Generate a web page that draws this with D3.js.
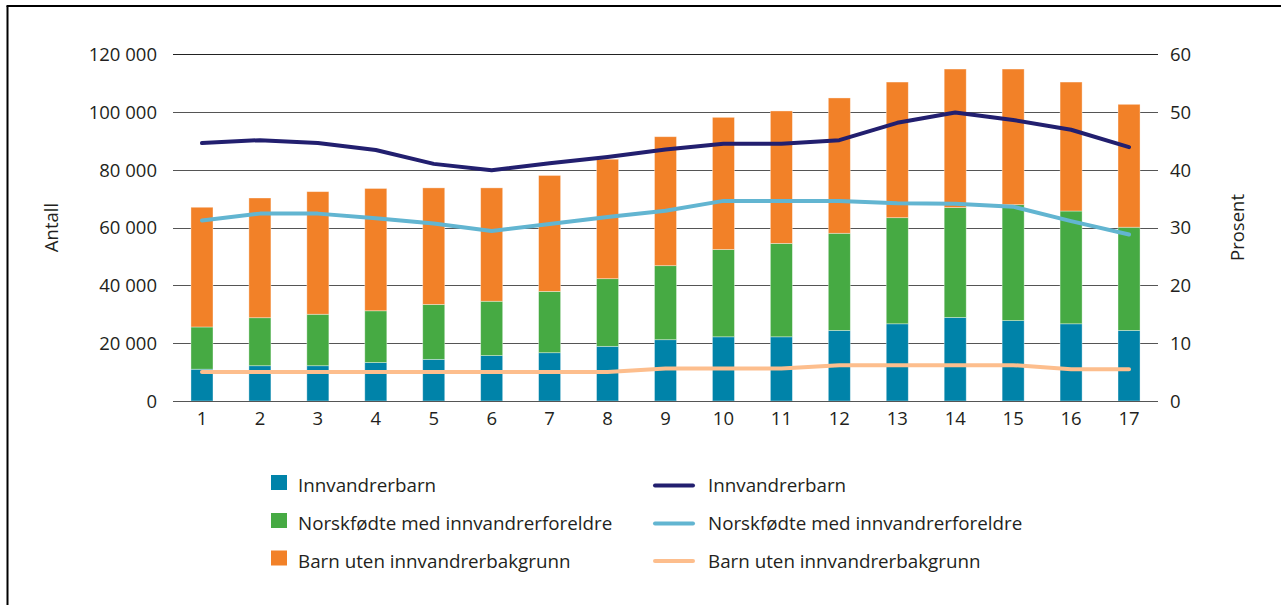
<!DOCTYPE html>
<html>
<head>
<meta charset="utf-8">
<script src="https://cdn.jsdelivr.net/npm/d3@7"></script>
<style>
  body { margin: 0; background: #fff; }
  text { font-family: "Open Sans", sans-serif; fill: #231f20; }
</style>
</head>
<body>
<div id="chart"></div>
<script>
// categories on the x axis
var years = ["1","2","3","4","5","6","7","8","9","10","11","12","13","14","15","16","17"];

// stacked bars (Antall) - each segment
var innvandrerbarn = [11000,12200,12200,13300,14400,15700,16700,18900,21200,22200,22200,24400,26700,28900,27800,26700,24400];
var norskfodte     = [14600,16600,17800,17900,19000,18800,21200,23400,25600,30200,32300,33600,36700,38000,40100,39000,35700];
var utenBakgrunn   = [41400,41400,42400,42300,40300,39200,40100,41300,44600,45700,45800,46800,46900,47900,46900,44600,42500];

// lines (Prosent)
var pInnvandrerbarn = [44.6,45.1,44.6,43.4,41.0,39.9,41.1,42.2,43.5,44.5,44.5,45.1,48.1,49.9,48.6,46.9,43.9];
var pNorskfodte     = [31.2,32.4,32.4,31.6,30.7,29.4,30.6,31.8,32.9,34.6,34.6,34.6,34.2,34.1,33.6,31.1,28.8];
var pUten           = [5.0,5.0,5.0,5.0,5.0,5.0,5.0,5.0,5.6,5.6,5.6,6.2,6.2,6.2,6.2,5.5,5.5];

var leftTicks  = [0,20000,40000,60000,80000,100000,120000];
var rightTicks = [0,10,20,30,40,50,60];

var barNames  = ["Innvandrerbarn","Norskfødte med innvandrerforeldre","Barn uten innvandrerbakgrunn"];
var barColors = ["#0083a9","#46aa43","#f28128"];
var lineColors = ["#221f6f","#62b5d1","#fdbe8d"];

function init(){
	var w = 1281;
	var h = 605;
	var left = 173, right = 1158, top = 54, bottom = 401;

	var svg = d3.select("#chart")
				.append("svg")
				.attr("width", w)
				.attr("height", h);

	// frame (left + top only)
	svg.append("line").attr("x1",7.5).attr("x2",7.5).attr("y1",6).attr("y2",h)
		.attr("stroke","#000").attr("stroke-width",2);
	svg.append("line").attr("x1",6.5).attr("x2",w).attr("y1",6).attr("y2",6)
		.attr("stroke","#000").attr("stroke-width",2);

	var x = d3.scaleBand()
			.domain(years)
			.range([left, right])
			.paddingInner(0.62)
			.paddingOuter(0.31);

	var yL = d3.scaleLinear().domain([0,120000]).range([bottom, top]);
	var yR = d3.scaleLinear().domain([0,60]).range([bottom, top]);

	var loc = d3.formatLocale({decimal: ",", thousands: " ", grouping: [3], currency: ["",""]});
	var fmt = loc.format(",d");

	// gridlines
	svg.append("g").selectAll("line")
		.data(leftTicks)
		.enter()
		.append("line")
		.attr("x1", left)
		.attr("x2", right)
		.attr("y1", function(d){ return Math.round(yL(d)) + 0.5; })
		.attr("y2", function(d){ return Math.round(yL(d)) + 0.5; })
		.attr("stroke", function(d){ return d == 120000 ? "#222" : "#555"; })
		.attr("stroke-width", 1);

	// left axis labels
	var axL = svg.append("g")
		.attr("transform", "translate(" + (left - 16) + ",0)")
		.call(d3.axisLeft(yL).tickValues(leftTicks).tickFormat(fmt).tickSize(0).tickPadding(0));
	axL.select(".domain").remove();
	axL.selectAll("text").style("font-size","18.5px").attr("dy","0.35em");

	var axR = svg.append("g")
		.attr("transform", "translate(" + (right + 12) + ",0)")
		.call(d3.axisRight(yR).tickValues(rightTicks).tickSize(0).tickPadding(0));
	axR.select(".domain").remove();
	axR.selectAll("text").style("font-size","18.5px").attr("dy","0.35em");

	var axB = svg.append("g")
		.attr("transform", "translate(0," + bottom + ")")
		.call(d3.axisBottom(x).tickSize(0).tickPadding(18));
	axB.select(".domain").remove();
	axB.selectAll("text").style("font-size","18.5px").attr("dy","0.35em");

	// axis titles
	svg.append("text")
		.attr("transform", "translate(58," + ((top+bottom)/2) + ") rotate(-90)")
		.attr("text-anchor","middle")
		.style("font-size","18.5px")
		.text("Antall");
	svg.append("text")
		.attr("transform", "translate(1244," + ((top+bottom)/2) + ") rotate(-90)")
		.attr("text-anchor","middle")
		.style("font-size","18.5px")
		.text("Prosent");

	// stacked bars
	var rows = years.map(function(d,i){
		return {year: d, a: innvandrerbarn[i], b: norskfodte[i], c: utenBakgrunn[i]};
	});
	var stack = d3.stack().keys(["a","b","c"])(rows);

	svg.append("g").selectAll("g")
		.data(stack)
		.enter()
		.append("g")
		.attr("fill", function(d,i){ return barColors[i]; })
		.selectAll("rect")
		.data(function(d){ return d; })
		.enter()
		.append("rect")
		.attr("x", function(d){ return x(d.data.year); })
		.attr("y", function(d){ return yL(d[1]); })
		.attr("width", x.bandwidth())
		.attr("height", function(d){ return yL(d[0]) - yL(d[1]); })
		.attr("stroke", "#fff")
		.attr("stroke-opacity", 0.45)
		.attr("stroke-width", 0.8);

	// baseline over the bars
	svg.append("line")
		.attr("x1", left).attr("x2", right)
		.attr("y1", bottom + 0.5).attr("y2", bottom + 0.5)
		.attr("stroke", "#555");

	// lines
	var line = d3.line()
		.x(function(d,i){ return x(years[i]) + x.bandwidth()/2; })
		.y(function(d){ return yR(d); });

	var series = [pUten, pNorskfodte, pInnvandrerbarn];
	var sColors = [lineColors[2], lineColors[1], lineColors[0]];
	svg.append("g").selectAll("path")
		.data(series)
		.enter()
		.append("path")
		.attr("d", line)
		.attr("fill", "none")
		.attr("stroke", function(d,i){ return sColors[i]; })
		.attr("stroke-width", 4)
		.attr("stroke-linecap", "round")
		.attr("stroke-linejoin", "round");

	// legend
	var rowY = [485.5, 523.5, 561];
	var leg1 = svg.append("g").selectAll("g")
		.data(barNames)
		.enter()
		.append("g");
	leg1.append("rect")
		.attr("x", 271)
		.attr("y", function(d,i){ return rowY[i] - 10.5; })
		.attr("width", 16)
		.attr("height", 15)
		.attr("fill", function(d,i){ return barColors[i]; });
	leg1.append("text")
		.attr("x", 298)
		.attr("y", function(d,i){ return rowY[i]; })
		.attr("dy", "0.35em")
		.style("font-size", "18.8px")
		.text(function(d){ return d; });

	var leg2 = svg.append("g").selectAll("g")
		.data(barNames)
		.enter()
		.append("g");
	leg2.append("line")
		.attr("x1", 655)
		.attr("x2", 693)
		.attr("y1", function(d,i){ return rowY[i]; })
		.attr("y2", function(d,i){ return rowY[i]; })
		.attr("stroke", function(d,i){ return lineColors[i]; })
		.attr("stroke-width", 4)
		.attr("stroke-linecap", "round");
	leg2.append("text")
		.attr("x", 708)
		.attr("y", function(d,i){ return rowY[i]; })
		.attr("dy", "0.35em")
		.style("font-size", "18.8px")
		.text(function(d){ return d; });
}
window.onload = init;
</script>
</body>
</html>
